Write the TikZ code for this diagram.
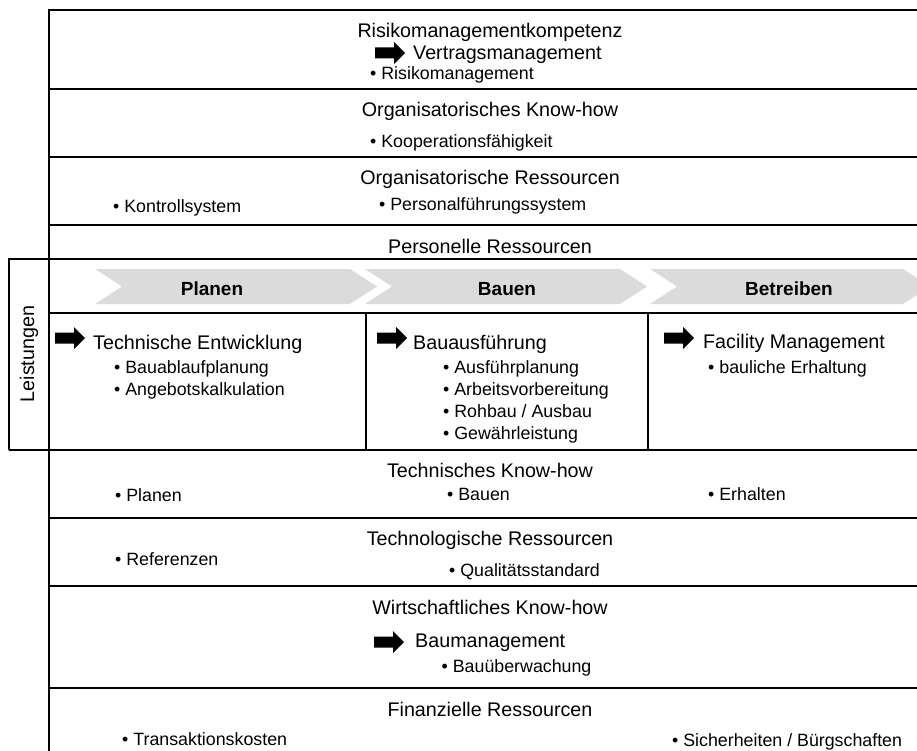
\documentclass[tikz,border=0pt]{standalone}
\usepackage{fontspec}
\setmainfont{Liberation Sans}
\tikzset{
  rule/.style    = {line width=1.6pt},
  chev/.style    = {fill=black!14},
  barrow/.pic    = {\fill (0,-5.5) -- (19,-5.5) -- (19,-11) -- (30,0)
                    -- (19,11) -- (19,5.5) -- (0,5.5) -- cycle;},
  head/.style    = {font=\fontsize{19.7}{23}\selectfont, inner sep=0pt,
                    anchor=base},
  headl/.style   = {font=\fontsize{19.7}{23}\selectfont, inner sep=0pt,
                    anchor=base west},
  item/.style    = {font=\fontsize{17.8}{21}\selectfont, inner sep=0pt,
                    anchor=base west},
  phase/.style   = {font=\fontsize{19}{22}\selectfont\bfseries, inner sep=0pt,
                    anchor=base},
}
\begin{document}
\begin{tikzpicture}[x=1pt,y=-1pt]
  \useasboundingbox (0,0) rectangle (917,751);
  % chevrons
  \fill[chev] (95,269) -- (350,269) -- (377,286.5) -- (350,304) -- (95,304) -- (122,286.5) -- cycle;
  \fill[chev] (365,269) -- (620,269) -- (647,286.5) -- (620,304) -- (365,304) -- (392,286.5) -- cycle;
  \fill[chev] (650,269) -- (903,269) -- (930,286.5) -- (903,304) -- (650,304) -- (677,286.5) -- cycle;
  % frame and rows
  \draw[rule] (49,751) -- (49,10) -- (917,10);
  \draw[rule] (49,89) -- (917,89);
  \draw[rule] (49,157) -- (917,157);
  \draw[rule] (49,225) -- (917,225);
  \draw[rule] (9,450) -- (9,259) -- (917,259);
  \draw[rule] (49,313) -- (917,313);
  \draw[rule] (9,450) -- (917,450);
  \draw[rule] (366,313) -- (366,450);
  \draw[rule] (648,313) -- (648,450);
  \draw[rule] (49,518) -- (917,518);
  \draw[rule] (49,586) -- (917,586);
  \draw[rule] (49,688) -- (917,688);
  % Leistungen
  \node[font=\fontsize{19.7}{23}\selectfont, inner sep=0pt, rotate=90] (leist) at (29,354) {Leistungen};
  % Risikomanagementkompetenz
  \node[head] (risk) at (490,38) {Risikomanagementkompetenz};
  \pic (arVer) at (375,53) {barrow};
  \node[headl] (vertr) at (413,60) {Vertragsmanagement};
  \node[item] (rima) at (370,80) {• Risikomanagement};
  % Organisatorisches Know-how
  \node[head] (orgkh) at (490,117) {Organisatorisches Know-how};
  \node[item] (koop) at (370,148) {• Kooperationsfähigkeit};
  % Organisatorische Ressourcen
  \node[head] (orgres) at (490,185) {Organisatorische Ressourcen};
  \node[item] (kontr) at (113,213) {• Kontrollsystem};
  \node[item] (persf) at (379,210.5) {• Personalführungssystem};
  % Personelle Ressourcen
  \node[head] (persres) at (490,253) {Personelle Ressourcen};
  % phases
  \node[phase] (planen) at (212,295) {Planen};
  \node[phase] (bauen) at (507,295) {Bauen};
  \node[phase] (betr) at (789,295) {Betreiben};
  % Leistungen: Planen
  \pic (arTech) at (55,338) {barrow};
  \node[headl] (tech) at (93,349) {Technische Entwicklung};
  \node[item] (bauabl) at (114,373) {• Bauablaufplanung};
  \node[item] (angeb) at (114,395) {• Angebotskalkulation};
  % Leistungen: Bauen
  \pic (arBau) at (377,338) {barrow};
  \node[headl] (bauaus) at (413,349) {Bauausführung};
  \node[item] (ausf) at (443,373) {• Ausführplanung};
  \node[item] (arbv) at (443,395) {• Arbeitsvorbereitung};
  \node[item] (rohb) at (443,417) {• Rohbau / Ausbau};
  \node[item] (gewl) at (443,439) {• Gewährleistung};
  % Leistungen: Betreiben
  \pic (arFac) at (664,338) {barrow};
  \node[headl] (facil) at (703,348.5) {Facility Management};
  \node[item] (erhal) at (708,373) {• bauliche Erhaltung};
  % Technisches Know-how
  \node[head] (techkh) at (490,477) {Technisches Know-how};
  \node[item] (kPlan) at (115,501) {• Planen};
  \node[item] (kBau) at (447,500.5) {• Bauen};
  \node[item] (kErh) at (708,500.5) {• Erhalten};
  % Technologische Ressourcen
  \node[head] (techres) at (490,545) {Technologische Ressourcen};
  \node[item] (refz) at (115,565) {• Referenzen};
  \node[item] (qual) at (449,576) {• Qualitätsstandard};
  % Wirtschaftliches Know-how
  \node[head] (wirtkh) at (490,614) {Wirtschaftliches Know-how};
  \pic (arBm) at (374,642) {barrow};
  \node[headl] (baum) at (415,647.5) {Baumanagement};
  \node[item] (bueb) at (441.5,672.7) {• Bauüberwachung};
  % Finanzielle Ressourcen
  \node[head] (finres) at (490,716.5) {Finanzielle Ressourcen};
  \node[item] (trans) at (122,745.5) {• Transaktionskosten};
  \node[item] (sich) at (672,746) {• Sicherheiten / Bürgschaften};
\end{tikzpicture}
\end{document}
